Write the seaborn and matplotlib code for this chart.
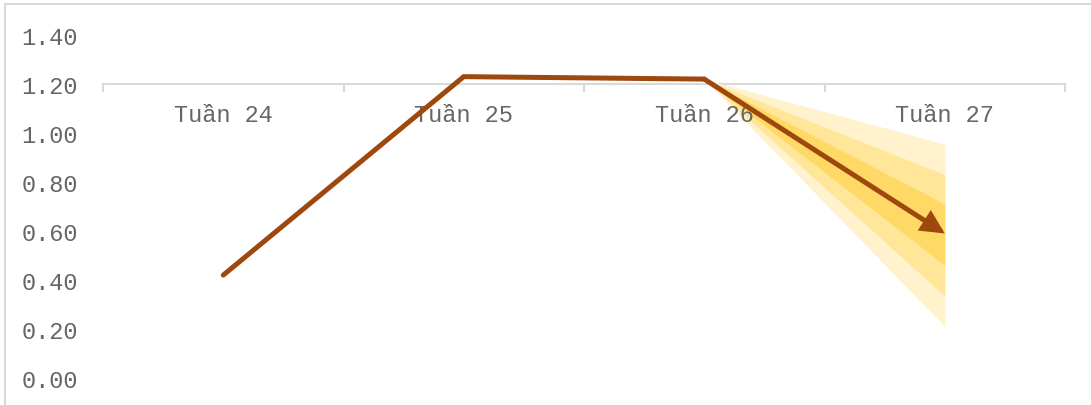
import matplotlib
matplotlib.use('Agg')
import matplotlib.pyplot as plt
from matplotlib.lines import Line2D
import seaborn as sns

# data
weeks = ['Tuần 24', 'Tuần 25', 'Tuần 26', 'Tuần 27']
values = [0.42, 1.23, 1.22, 0.59]
# fan bands at the forecast week (lower, upper), outer to inner
band_low = [0.21, 0.335, 0.46]
band_high = [0.955, 0.83, 0.71]
band_colors = ['#FFF2CC', '#FFE699', '#FFD966']
yticks = [0.0, 0.2, 0.4, 0.6, 0.8, 1.0, 1.2, 1.4]

line_color = '#9E480E'
grey = '#666666'
frame = '#D9D9D9'

sns.set_style('white')
plt.rcParams['font.family'] = ['Liberation Mono', 'DejaVu Sans']

fig = plt.figure(figsize=(10.91, 4.06), dpi=100)
ax = fig.add_axes([103 / 1091, 27 / 406, (1065 - 103) / 1091, (379 - 36) / 406])
ax.set_axisbelow(False)

pos = list(range(len(weeks)))

# fan from the last actual point out to the forecast week
for lo, hi, c in zip(band_low, band_high, band_colors):
    ax.fill_between([pos[2], pos[3]], [values[2], lo], [values[2], hi],
                    color=c, linewidth=0, zorder=1)

sns.lineplot(x=pos[:3], y=values[:3], ax=ax, color=line_color, linewidth=3.6,
             solid_joinstyle='miter', solid_capstyle='round', zorder=3)
ax.annotate('', xy=(pos[3], values[3]), xytext=(pos[2], values[2]),
            arrowprops=dict(arrowstyle='-|>,head_length=0.9,head_width=0.45',
                            color=line_color, lw=3.6, joinstyle='miter',
                            mutation_scale=13, shrinkA=0, shrinkB=0),
            zorder=3)

ax.set_xlim(-0.5, 3.5)
ax.set_ylim(0, 1.4)

for s in ['left', 'right', 'top']:
    ax.spines[s].set_visible(False)
ax.spines['bottom'].set_position(('data', 1.2))
ax.spines['bottom'].set_color(frame)
ax.spines['bottom'].set_linewidth(1.5)
ax.spines['bottom'].set_zorder(0)

ax.set_xticks(pos)
ax.set_xticklabels(weeks, fontsize=17, color=grey)
ax.set_xticks([p - 0.5 for p in pos] + [3.5], minor=True)
ax.tick_params(axis='x', which='major', length=0, pad=14)
ax.tick_params(axis='x', which='minor', bottom=True, length=6, width=1.5,
               color=frame, direction='out')

ax.set_yticks(yticks)
ax.set_yticklabels([f'{v:.2f}' for v in yticks], fontsize=17, color=grey)
ax.tick_params(axis='y', length=0, pad=18)
ax.set_xlabel('')
ax.set_ylabel('')

# chart area border (cut off on right and bottom)
fig.add_artist(Line2D([5 / 1091, 5 / 1091], [0, 1 - 5 / 406], color=frame, lw=1.5))
fig.add_artist(Line2D([5 / 1091, 1], [1 - 5 / 406, 1 - 5 / 406], color=frame, lw=1.5))

fig.savefig('out.png', dpi=100)
